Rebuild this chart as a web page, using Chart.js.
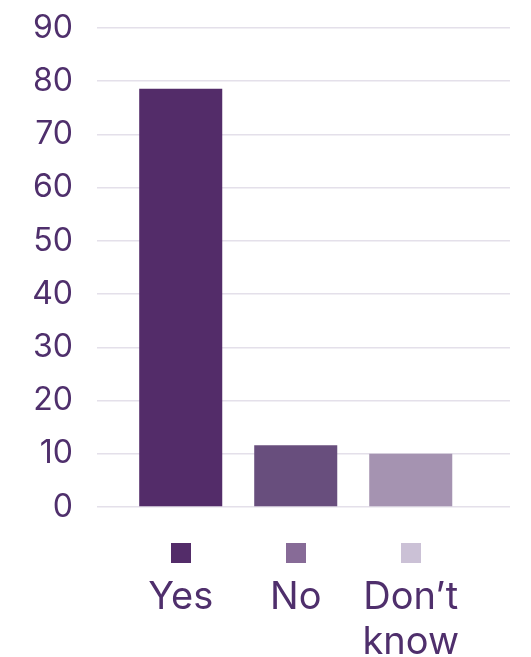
<!DOCTYPE html>
<html>
<head>
<meta charset="utf-8">
<script src="https://cdn.jsdelivr.net/npm/chart.js@4"></script>
<style>
  html, body { margin: 0; padding: 0; background: #fff; }
  #wrap { width: 531px; height: 657px; }
</style>
</head>
<body>
<div id="wrap"><canvas id="chart" width="531" height="657"></canvas></div>
<script>
// data
const categories = ["Yes", "No", "Don’t know"];
const tickLines = [["Yes"], ["No"], ["Don’t", "know"]];
const values = [78.6, 11.6, 10];
const yTicks = [0, 10, 20, 30, 40, 50, 60, 70, 80, 90];

const barColors = ["#532c69", "#684e7d", "#a593b1"];
const keyColors = ["#532c69", "#876b97", "#cbc1d6"];
const textColor = "#4f2f6c";
const fontFamily = "Inter, 'Open Sans', sans-serif";

// little coloured squares above each label
const keySquares = {
  id: "keySquares",
  afterDraw(chart) {
    const ctx = chart.ctx;
    const x = chart.scales.x;
    const yc = chart.chartArea.bottom + 46;
    ctx.save();
    categories.forEach((c, i) => {
      const xc = x.getPixelForValue(i);
      ctx.fillStyle = keyColors[i];
      ctx.fillRect(Math.round(xc - 10), Math.round(yc - 10), 20, 20);
    });
    ctx.restore();
  }
};

new Chart(document.getElementById("chart"), {
  type: "bar",
  data: {
    datasets: [{
      data: values.map((v, i) => ({ x: i, y: v })),
      backgroundColor: barColors,
      barPercentage: 0.722,
      categoryPercentage: 1
    }]
  },
  options: {
    responsive: false,
    animation: false,
    layout: { padding: { top: 28, right: 21, left: 0, bottom: 0 } },
    plugins: { legend: { display: false }, tooltip: { enabled: false } },
    scales: {
      x: {
        type: "linear",
        offset: false,
        min: -0.728,
        max: 2.863,
        grid: { display: false, drawTicks: false },
        border: { display: false },
        afterBuildTicks(scale) {
          scale.ticks = categories.map((c, i) => ({ value: i }));
        },
        afterFit(scale) {
          scale.height = 150;
          scale.paddingLeft = 0;
          scale.paddingRight = 0;
        },
        ticks: {
          autoSkip: false,
          maxRotation: 0,
          minRotation: 0,
          padding: 68,
          color: textColor,
          font: { family: fontFamily, size: 38, lineHeight: 1.18 },
          callback: (v) => tickLines[v]
        }
      },
      y: {
        min: 0,
        max: 90,
        afterBuildTicks(scale) {
          scale.ticks = yTicks.map(v => ({ value: v }));
        },
        afterFit(scale) {
          scale.width = 97;
          scale.paddingTop = 0;
          scale.paddingBottom = 0;
        },
        grid: { color: "#e4e0ea", lineWidth: 1.5, drawTicks: false },
        border: { display: false },
        ticks: {
          padding: 24,
          color: textColor,
          font: { family: fontFamily, size: 32 }
        }
      }
    }
  },
  plugins: [keySquares]
});
</script>
</body>
</html>
